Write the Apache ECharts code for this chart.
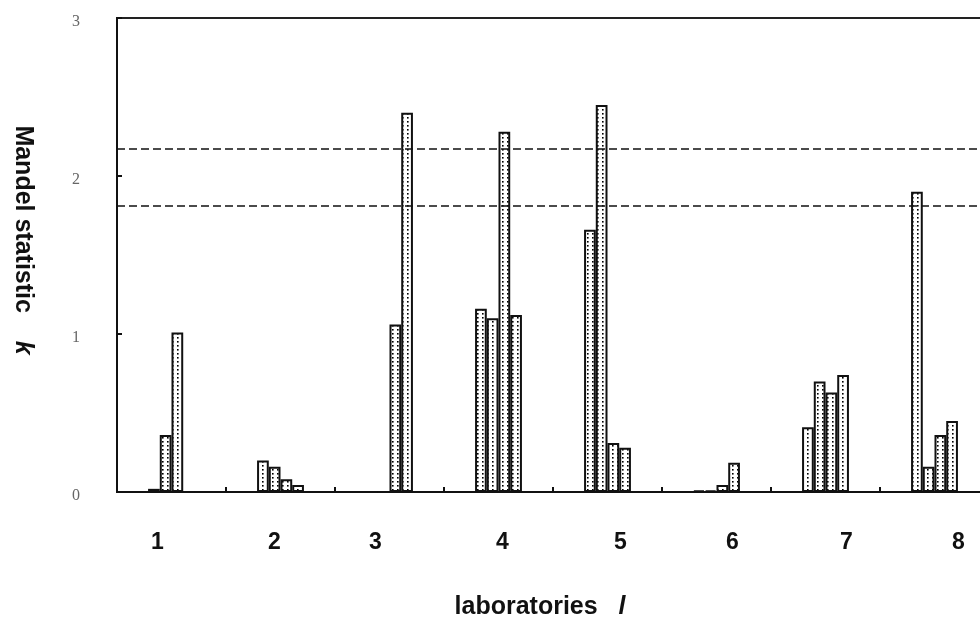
<!DOCTYPE html>
<html>
<head>
<meta charset="utf-8">
<script src="https://cdn.jsdelivr.net/npm/echarts@6/dist/echarts.min.js"></script>
<style>
  html, body { margin: 0; padding: 0; background: #fff; overflow: hidden; }
  #chart { width: 980px; height: 621px; }
</style>
</head>
<body>
<div id="chart"></div>
<script>
// Laboratories on the x axis
const labs = ['1', '2', '3', '4', '5', '6', '7', '8'];

// Mandel k statistic for each of the four levels, per laboratory
const levelA = [0.02, 0.20, 0.00, 1.16, 1.66, 0.01, 0.41, 1.90];
const levelB = [0.36, 0.16, 0.00, 1.10, 2.45, 0.01, 0.70, 0.16];
const levelC = [1.01, 0.08, 1.06, 2.28, 0.31, 0.045, 0.63, 0.36];
const levelD = [0.00, 0.045, 2.40, 1.12, 0.28, 0.185, 0.74, 0.45];

// Critical values (1 % and 5 %) drawn as dashed reference lines
const criticalValues = [2.175, 1.807];

// Horizontal nudges of the laboratory labels (px)
const labelShift = [-14, -6, -14, 4, 13, 16, 21, 24];

// Dotted fill used for every bar
function dotPattern() {
  const c = document.createElement('canvas');
  c.width = 5; c.height = 4;
  const ctx = c.getContext('2d');
  ctx.fillStyle = '#fff';
  ctx.fillRect(0, 0, 5, 4);
  ctx.fillStyle = '#000';
  ctx.fillRect(2, 1, 1.6, 1.6);
  return c;
}
const fill = { image: dotPattern(), repeat: 'repeat' };

const labelFont = { fontFamily: 'Liberation Sans, Arial, sans-serif', fontWeight: 'bold', fontSize: 23, color: '#111' };
const nameFont = Object.assign({}, labelFont, { fontSize: 25 });
const tickFont = { fontFamily: 'Liberation Serif, Times New Roman, serif', fontSize: 16, color: '#666' };
const rich = {};
labelShift.forEach((s, i) => {
  rich['s' + i] = Object.assign({}, labelFont, {
    padding: [0, Math.max(0, -2 * s), 0, Math.max(0, 2 * s)]
  });
});

function levelSeries(name, data, withLines) {
  const s = {
    name: name,
    type: 'bar',
    data: data,
    barGap: '0%',
    barCategoryGap: '57%',
    itemStyle: { color: fill, borderColor: '#111', borderWidth: 2 },
    emphasis: { disabled: true },
    animation: false
  };
  if (withLines) {
    s.markLine = {
      silent: true,
      symbol: 'none',
      label: { show: false },
      lineStyle: { color: '#111', type: [8, 4], width: 1.6 },
      data: criticalValues.map(v => ({ yAxis: v }))
    };
  }
  return s;
}

const chart = echarts.init(document.getElementById('chart'));
chart.setOption({
  backgroundColor: '#fff',
  animation: false,
  // the plot frame runs a little past the right edge of the canvas
  grid: {
    left: 117, top: 18, width: 872, height: 474,
    outerBoundsMode: 'none',
    containLabel: false,
    show: true, borderColor: '#222', borderWidth: 2, backgroundColor: 'transparent'
  },
  xAxis: {
    type: 'category',
    data: labs,
    boundaryGap: true,
    axisLine: { lineStyle: { color: '#111', width: 2 } },
    axisTick: { show: true, inside: true, length: 5, lineStyle: { color: '#111', width: 2 } },
    axisLabel: {
      margin: 39,
      formatter: (v, i) => '{s' + i + '|' + v + '}',
      rich: rich
    },
    splitLine: { show: false },
    name: 'laboratories   {i|l}',
    nameLocation: 'middle',
    nameGap: 103,
    nameTextStyle: Object.assign({}, nameFont, {
      padding: [0, 26, 0, 0],
      rich: { i: Object.assign({}, nameFont, { fontStyle: 'italic' }) }
    })
  },
  yAxis: {
    type: 'value',
    min: 0, max: 3, interval: 1,
    axisLine: { show: true, lineStyle: { color: '#111', width: 2 } },
    axisTick: { show: true, inside: true, length: 5, lineStyle: { color: '#111', width: 2 } },
    axisLabel: {
      margin: 37,
      formatter: v => '{t|' + v + '}',
      rich: { t: Object.assign({}, tickFont, { padding: [7, 0, 0, 0] }) }
    },
    splitLine: { show: false },
    name: 'Mandel statistic    {i|k}',
    nameLocation: 'middle',
    nameRotate: -90,
    nameGap: 82,
    nameTextStyle: Object.assign({}, nameFont, {
      padding: [0, 30, 0, 0],
      rich: { i: Object.assign({}, nameFont, { fontStyle: 'italic' }) }
    })
  },
  series: [
    levelSeries('A', levelA, true),
    levelSeries('B', levelB, false),
    levelSeries('C', levelC, false),
    levelSeries('D', levelD, false)
  ]
});
</script>
</body>
</html>
